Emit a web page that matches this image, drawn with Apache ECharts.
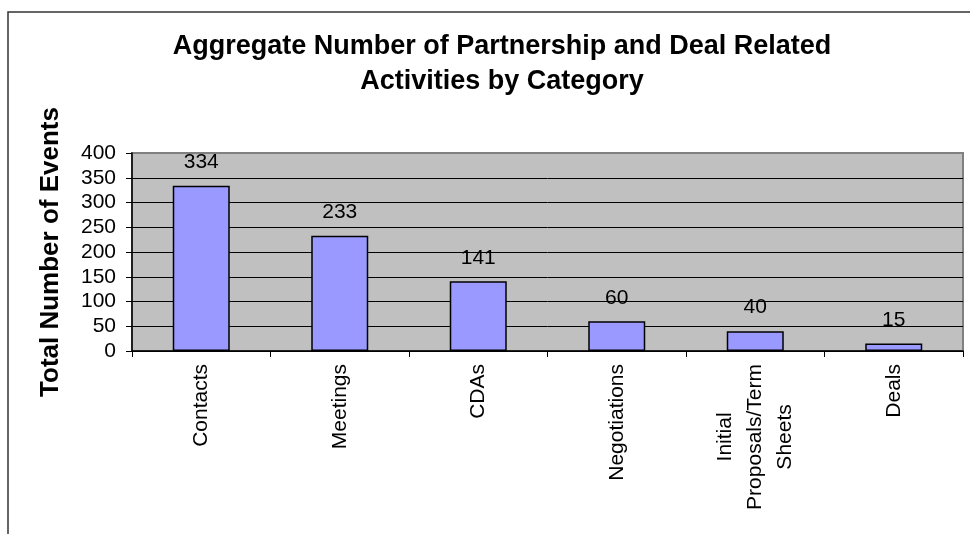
<!DOCTYPE html>
<html>
<head>
<meta charset="utf-8">
<script src="https://cdn.jsdelivr.net/npm/echarts@6/dist/echarts.min.js"></script>
<style>
html,body{margin:0;padding:0;background:#fff;}
#c{width:970px;height:534px;}
</style>
</head>
<body>
<div id="c"></div>
<script>
const categories = ['Contacts', 'Meetings', 'CDAs', 'Negotiations', 'Initial\nProposals/Term\nSheets', 'Deals'];
const values = [334, 233, 141, 60, 40, 15];
const yTicks = [0, 50, 100, 150, 200, 250, 300, 350, 400];
const titleText = 'Aggregate Number of Partnership and Deal Related\nActivities by Category';
const yName = 'Total Number of Events';

const FONT = 'Arial, "Liberation Sans", sans-serif';
const chart = echarts.init(document.getElementById('c'), null, {renderer: 'canvas'});

const splitColors = yTicks.map((v, i) => i === yTicks.length - 1 ? '#808080' : '#000000');

chart.setOption({
  animation: false,
  backgroundColor: '#ffffff',
  graphic: [{
    type: 'rect',
    shape: {x: 8, y: 12, width: 1000, height: 600},
    style: {fill: 'none', stroke: '#333333', lineWidth: 1.5},
    silent: true,
    z: -10
  }],
  title: {
    text: titleText,
    left: 497,
    top: 24,
    textAlign: 'center',
    textStyle: {fontFamily: FONT, fontSize: 27, fontWeight: 'bold', color: '#000', lineHeight: 35}
  },
  grid: {
    left: 132, right: 7, top: 153, bottom: 183,
    show: true,
    backgroundColor: '#C0C0C0',
    borderColor: '#808080',
    borderWidth: 2
  },
  xAxis: {
    type: 'category',
    data: categories,
    axisLine: {lineStyle: {color: '#000', width: 1.5}},
    axisTick: {show: true, length: 6, lineStyle: {color: '#000'}},
    axisLabel: {
      rotate: 90,
      margin: 13,
      interval: 0,
      fontFamily: FONT,
      fontSize: 21,
      color: '#000',
      lineHeight: 30,
      formatter: function (v) {
        return v.split('\n').map(s => '{c|' + s + '}').join('\n');
      },
      rich: {c: {align: 'center', fontFamily: FONT, fontSize: 21, color: '#000', lineHeight: 30}}
    }
  },
  yAxis: {
    type: 'value',
    min: 0, max: 400, interval: 50,
    name: yName,
    nameLocation: 'middle',
    nameRotate: 90,
    nameGap: 68,
    nameTextStyle: {fontFamily: FONT, fontSize: 26, fontWeight: 'bold', color: '#000'},
    axisLine: {show: true, lineStyle: {color: '#000', width: 1.5}},
    axisTick: {show: true, length: 6, lineStyle: {color: '#000'}},
    axisLabel: {margin: 16, fontFamily: FONT, fontSize: 21, color: '#000'},
    splitLine: {show: true, lineStyle: {color: splitColors, width: 1}}
  },
  series: [{
    type: 'bar',
    data: values,
    barWidth: 57,
    itemStyle: {color: '#9999FF', borderColor: '#000', borderWidth: 1.5},
    label: {
      show: true,
      position: 'top',
      distance: 13,
      fontFamily: FONT,
      fontSize: 21,
      color: '#000'
    }
  }]
});
</script>
</body>
</html>
